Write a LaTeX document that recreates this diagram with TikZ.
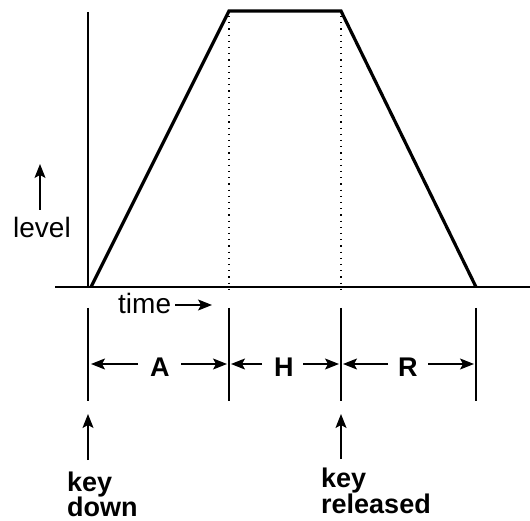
\documentclass[tikz,border=0pt]{standalone}
\usepackage{fontspec}
\setmainfont{Liberation Sans}
\usetikzlibrary{arrows.meta}
\begin{document}
\begin{tikzpicture}[x=1pt,y=-1pt,
  thin line/.style={line width=1.2pt, black},
  env/.style={line width=3.2pt, line join=miter},
  dotline/.style={line width=1.2pt, dash pattern=on 1.2pt off 5pt},
  tip/.style={-{Stealth[length=14pt,width=11pt,inset=3pt]}, line width=1.2pt},
  lbl/.style={inner sep=0pt, anchor=base west, font=\fontsize{28}{28}\selectfont},
  blbl/.style={inner sep=0pt, anchor=base west, font=\fontsize{27}{27}\selectfont\bfseries}]
\useasboundingbox (0,0) rectangle (530,521);
% axes
\coordinate (ytop) at (88,12);
\coordinate (ybot) at (88,287);
\coordinate (xl) at (55,287);
\coordinate (xr) at (530,287);
\draw[thin line] (ytop) -- (ybot);
\draw[thin line] (xl) -- (xr);
% envelope
\coordinate (p0) at (91,287);
\coordinate (p1) at (229,11);
\coordinate (p2) at (341,11);
\coordinate (p3) at (476,287);
\draw[env] (p0) -- (p1) -- (p2) -- (p3);
% dotted guides
\coordinate (d1) at (229,290);
\coordinate (d2) at (341,290);
\draw[dotline] (229,16) -- (d1);
\draw[dotline] (341,16) -- (d2);
% lower verticals
\foreach \n/\x in {a/88,b/229,c/341,d/476}{
  \coordinate (\n t) at (\x,308);
  \coordinate (\n b) at (\x,401);
  \draw[thin line] (\n t) -- (\n b);
}
% labels
\node[lbl] (level) at (13,238) {level};
\coordinate (lvlt) at (40,164);
\coordinate (lvlb) at (40,210);
\draw[tip] (lvlb) -- (lvlt);
\node[lbl] (time) at (118,313) {time};
\coordinate (timest) at (175,305);
\coordinate (timeend) at (212,305);
\draw[tip] (timest) -- (timeend);
% dimension labels
\node[blbl] (A) at (150,376) {A};
\node[blbl] (H) at (274,376) {H};
\node[blbl] (R) at (398,376) {R};
\coordinate (A1) at (91,364);
\coordinate (A2) at (227,364);
\coordinate (H1) at (231,364);
\coordinate (H2) at (339,364);
\coordinate (R1) at (343,364);
\coordinate (R2) at (474,364);
\draw[tip] (138,364) -- (A1);
\draw[tip] (181,364) -- (A2);
\draw[tip] (262,364) -- (H1);
\draw[tip] (303,364) -- (H2);
\draw[tip] (388,364) -- (R1);
\draw[tip] (428,364) -- (R2);
% key arrows
\coordinate (k1t) at (88,414);
\coordinate (k1b) at (88,460);
\coordinate (k2t) at (341,414);
\coordinate (k2b) at (341,459);
\draw[tip] (k1b) -- (k1t);
\draw[tip] (k2b) -- (k2t);
\node[blbl] (kd1) at (67,491) {key};
\node[blbl] (kd2) at (67,516) {down};
\node[blbl] (kr1) at (321,487) {key};
\node[blbl] (kr2) at (321,513) {released};
\end{tikzpicture}
\end{document}
